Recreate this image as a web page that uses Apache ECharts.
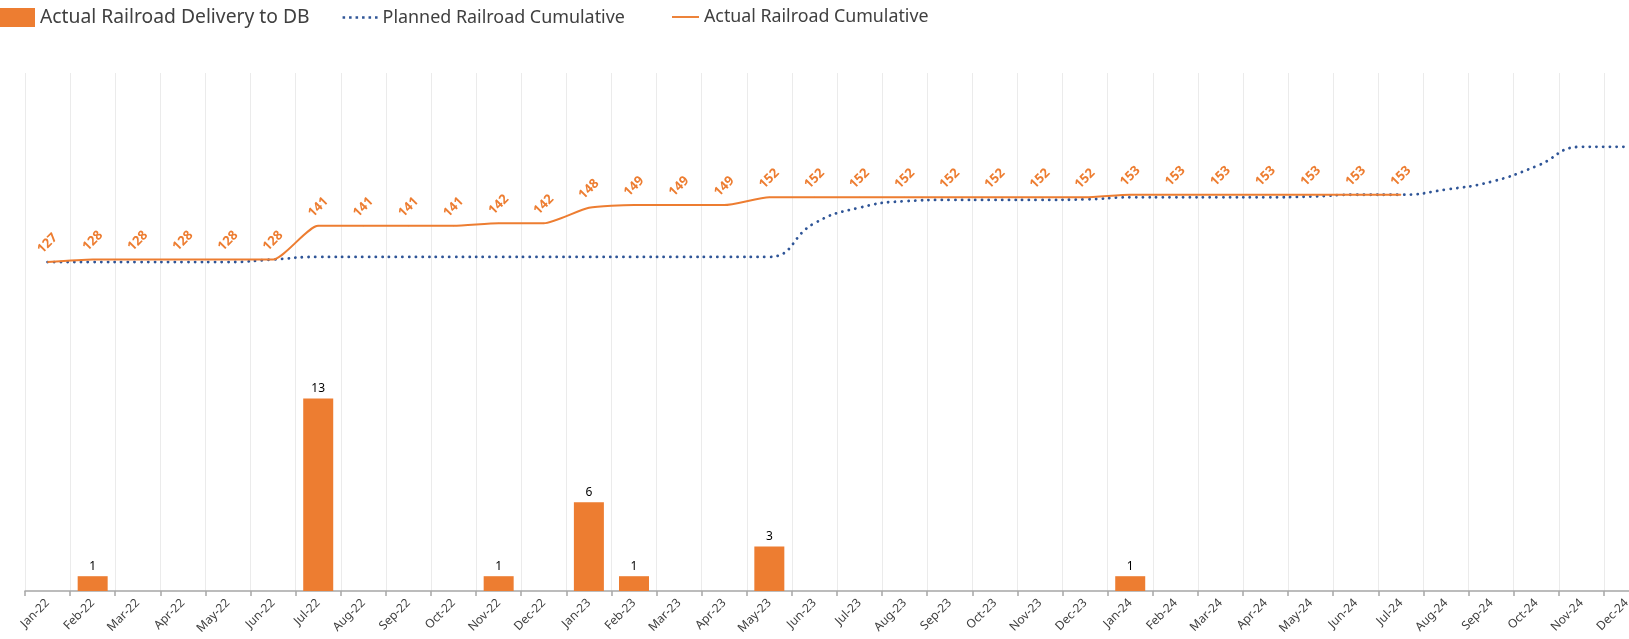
<!DOCTYPE html>
<html>
<head>
<meta charset="utf-8">
<script src="https://cdn.jsdelivr.net/npm/echarts@6/dist/echarts.min.js"></script>
<style>
html,body{margin:0;padding:0;background:#fff;overflow:hidden;width:1629px;height:639px;}
#chart{width:1652px;height:639px;}
</style>
</head>
<body>
<div id="chart"></div>
<script>
const categories = ['Jan-22','Feb-22','Mar-22','Apr-22','May-22','Jun-22','Jul-22','Aug-22','Sep-22','Oct-22','Nov-22','Dec-22',
  'Jan-23','Feb-23','Mar-23','Apr-23','May-23','Jun-23','Jul-23','Aug-23','Sep-23','Oct-23','Nov-23','Dec-23',
  'Jan-24','Feb-24','Mar-24','Apr-24','May-24','Jun-24','Jul-24','Aug-24','Sep-24','Oct-24','Nov-24','Dec-24'];
const actualDelivery = [null,1,null,null,null,null,13,null,null,null,1,null,
  6,1,null,null,3,null,null,null,null,null,null,null,
  1,null,null,null,null,null,null,null,null,null,null,null];
const plannedCumulative = [127,127,127,127,127,128,129,129,129,129,129,129,
  129,129,129,129,129,142,148,150.5,151,151,151,151.2,
  152,152,152,152,152.3,153,153,155,158,164,171.5,171.5];
const actualCumulative = [127,128,128,128,128,128,141,141,141,141,142,142,
  148,149,149,149,152,152,152,152,152,152,152,152,
  153,153,153,153,153,153,153,null,null,null,null,null];

const chart = echarts.init(document.getElementById('chart'));
const orange = '#ED7D31';
const blue = '#2F5597';
let dots = '';
for (let i = 0; i < 6; i++) { const x = i * 6.6; dots += 'M' + x + ',0h2.6v2.6h-2.6z'; }
const legendText = { color: '#404040', fontFamily: 'Noto Sans' };
chart.setOption({
  animation: false,
  backgroundColor: '#ffffff',
  textStyle: { fontFamily: 'Noto Sans' },
  legend: [
    {
      left: 0, top: 8, padding: 0,
      itemWidth: 35, itemHeight: 19, itemGap: 33,
      textStyle: legendText,
      data: [
        { name: 'Actual Railroad Delivery to DB', icon: 'rect', textStyle: { fontSize: 19.3 } },
        { name: 'Planned Railroad Cumulative', icon: 'path://' + dots, textStyle: { fontSize: 17.9 } }
      ]
    },
    {
      left: 672, top: 8, padding: 0,
      itemWidth: 27, itemHeight: 19,
      textStyle: legendText,
      data: [
        { name: 'Actual Railroad Cumulative', icon: 'path://M0,0h34v2.4h-34z', textStyle: { fontSize: 17.8 } }
      ]
    }
  ],
  grid: { left: 25, top: 73, right: 3, bottom: 48, containLabel: false },
  xAxis: {
    type: 'category',
    data: categories,
    boundaryGap: true,
    axisLine: { lineStyle: { color: '#A6A6A6', width: 1.5 } },
    axisTick: { show: true, length: 5, lineStyle: { color: '#A6A6A6', width: 1.5 } },
    splitLine: { show: true, lineStyle: { color: '#EBEBEB', width: 1 } },
    axisLabel: { rotate: 45, fontSize: 12, color: '#404040', margin: 10, interval: 0 }
  },
  yAxis: [
    { type: 'value', min: 0, max: 35, show: false, splitLine: { show: false } },
    { type: 'value', min: 0, max: 200, show: false, splitLine: { show: false } }
  ],
  series: [
    {
      name: 'Actual Railroad Delivery to DB',
      type: 'bar',
      yAxisIndex: 0,
      data: actualDelivery,
      barWidth: 30,
      itemStyle: { color: orange },
      label: { show: true, position: 'top', distance: 4, fontSize: 12, color: '#000000' }
    },
    {
      name: 'Planned Railroad Cumulative',
      type: 'line',
      yAxisIndex: 1,
      data: plannedCumulative,
      smooth: 0.5,
      symbol: 'none',
      showSymbol: false,
      lineStyle: { color: blue, width: 2.8, type: [0.1, 6.6], cap: 'round' },
      itemStyle: { color: blue },
      z: 3
    },
    {
      name: 'Actual Railroad Cumulative',
      type: 'line',
      yAxisIndex: 1,
      data: actualCumulative,
      smooth: 0.2,
      symbol: 'circle',
      symbolSize: 1,
      showSymbol: true,
      connectNulls: false,
      lineStyle: { color: orange, width: 2 },
      itemStyle: { color: orange },
      label: {
        show: true, position: 'top', distance: 18, rotate: 45,
        align: 'center', verticalAlign: 'middle',
        fontSize: 13, fontWeight: 'bold', color: orange
      },
      z: 4
    }
  ]
});
</script>
</body>
</html>
